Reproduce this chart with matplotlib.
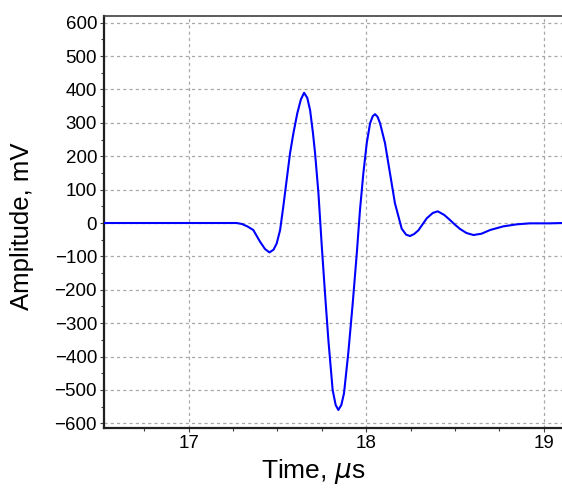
import matplotlib
matplotlib.use("Agg")
import matplotlib.pyplot as plt
from matplotlib.ticker import MultipleLocator

plt.rcParams['font.family'] = ['Liberation Sans', 'DejaVu Sans']

time_us = [16.50, 17.00, 17.20, 17.27, 17.30, 17.33, 17.364, 17.402, 17.430, 17.455,
           17.478, 17.496, 17.515, 17.533, 17.552, 17.571, 17.590, 17.612, 17.632,
           17.650, 17.668, 17.684, 17.700, 17.712, 17.731, 17.750, 17.768, 17.787,
           17.811, 17.828, 17.843, 17.860, 17.875, 17.899, 17.924, 17.947, 17.965,
           17.984, 18.003, 18.022, 18.037, 18.050, 18.064, 18.078, 18.106, 18.134,
           18.162, 18.200, 18.225, 18.247, 18.270, 18.294, 18.341, 18.375, 18.403,
           18.440, 18.472, 18.500, 18.529, 18.565, 18.604, 18.650, 18.698, 18.773,
           18.848, 18.923, 19.036, 19.110]
amplitude_mv = [0, 0, 0, 0, -3, -10, -21, -56, -78, -88,
                -80, -61, -21, 49, 129, 209, 269, 329, 370,
                390, 375, 338, 270, 209, 89, -71, -211, -351,
                -500, -545, -560, -545, -510, -390, -241, -91, 39,
                149, 239, 299, 320, 326, 318, 299, 239, 149,
                59, -17, -35, -39, -33, -22, 14, 30, 35,
                24, 9, -5, -18, -30, -36, -32, -21, -10,
                -4, -1, -1, 0]

x_ticks = [17, 18, 19]

fig = plt.figure(figsize=(5.62, 4.88), dpi=100)
ax = fig.add_axes([104/562, 60/488, 1 - 104/562, (428-16)/488])

ax.plot(time_us, amplitude_mv, color='#0000FF', lw=1.5, zorder=3)

ax.set_xlim(16.523, 19.103)
ax.set_ylim(-614, 620)
ax.set_xticks(x_ticks)
ax.xaxis.set_minor_locator(MultipleLocator(0.25))
ax.yaxis.set_major_locator(MultipleLocator(100))
ax.yaxis.set_minor_locator(MultipleLocator(50))

ax.grid(True, which='major', color='#a8a8a8', linestyle=(0, (2.5, 2.5)), linewidth=0.9)
ax.tick_params(which='both', direction='out', length=3, width=0.8, color='#404040',
               labelsize=13.5, pad=2)
ax.tick_params(which='minor', length=2.5)

for side in ['left', 'bottom']:
    ax.spines[side].set_linewidth(1.6)
    ax.spines[side].set_color('#202020')
ax.spines['top'].set_linewidth(1.2)
ax.spines['top'].set_color('#404040')
ax.spines['right'].set_visible(False)

ax.set_xlabel(r'Time, $\mu$s', fontsize=19, labelpad=4)
ax.xaxis.label.set_x(0.456)
ax.set_ylabel('Amplitude, mV', fontsize=18.5)
ax.yaxis.set_label_coords(-0.152, 0.49)

fig.savefig('out.png', dpi=100)
